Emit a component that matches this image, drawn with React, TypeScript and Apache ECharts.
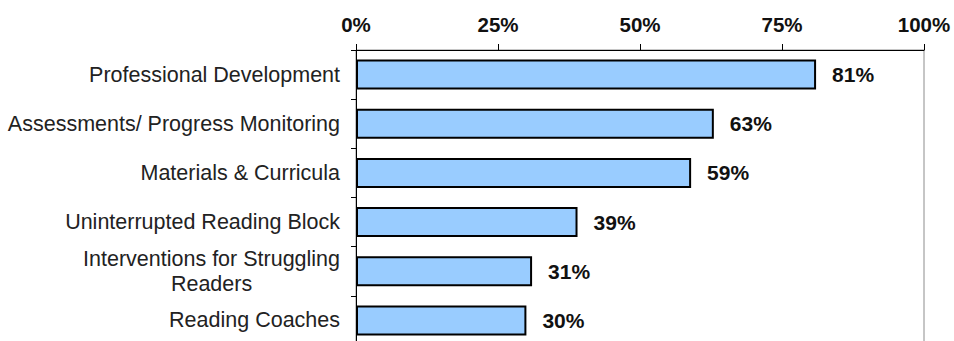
import React, { useEffect, useRef } from "react";
import * as echarts from "echarts";

const categories: string[] = [
  "Professional Development",
  "Assessments/ Progress Monitoring",
  "Materials & Curricula",
  "Uninterrupted Reading Block",
  "Interventions for Struggling\nReaders",
  "Reading Coaches",
];
const values: number[] = [81, 63, 59, 39, 31, 30];
const xTicks = { min: 0, max: 100, interval: 25 };

const FONT = "'Liberation Sans', Arial, Helvetica, sans-serif";

export default function App() {
  const ref = useRef<HTMLDivElement>(null);
  useEffect(() => {
    if (!ref.current) return;
    const chart = echarts.init(ref.current, undefined, { renderer: "svg" });
    chart.setOption({
      animation: false,
      backgroundColor: "#fff",
      grid: {
        left: 356,
        right: 30,
        top: 50,
        height: 295,
        show: true,
        borderColor: "#8c8c8c",
        borderWidth: 1,
        backgroundColor: "transparent",
      },
      xAxis: {
        type: "value",
        position: "top",
        min: xTicks.min,
        max: xTicks.max,
        interval: xTicks.interval,
        axisLine: { show: true, lineStyle: { color: "#000", width: 1 } },
        axisTick: { show: true, inside: false, length: 6, lineStyle: { color: "#000", width: 1 } },
        splitLine: { show: false },
        axisLabel: {
          formatter: "{value}%",
          fontFamily: FONT,
          fontSize: 20.5,
          fontWeight: "bold",
          color: "#111",
          margin: 15,
        },
      },
      yAxis: {
        type: "category",
        data: categories,
        inverse: true,
        axisLine: { show: true, lineStyle: { color: "#000", width: 1 } },
        axisTick: { show: true, inside: false, length: 5, alignWithLabel: false, lineStyle: { color: "#000", width: 1 } },
        axisLabel: {
          margin: 16,
          formatter: (v: string) =>
            v
              .split("\n")
              .map((l) => `{c|${l}}`)
              .join("\n"),
          rich: {
            c: {
              align: "center",
              fontFamily: FONT,
              fontSize: 21.5,
              lineHeight: 25,
              color: "#222",
            },
          },
        },
      },
      series: [
        {
          type: "bar",
          data: values,
          barWidth: 30,
          itemStyle: { color: "#99CCFF", borderColor: "#000", borderWidth: 2 },
          label: {
            show: true,
            position: "right",
            distance: 16,
            formatter: "{c}%",
            fontFamily: FONT,
            fontSize: 21,
            fontWeight: "bold",
            color: "#111",
          },
        },
      ],
    });
    return () => chart.dispose();
  }, []);
  return (
    <div
      ref={ref}
      style={{ position: "fixed", left: 0, top: 0, width: 954, height: 350 }}
    />
  );
}
